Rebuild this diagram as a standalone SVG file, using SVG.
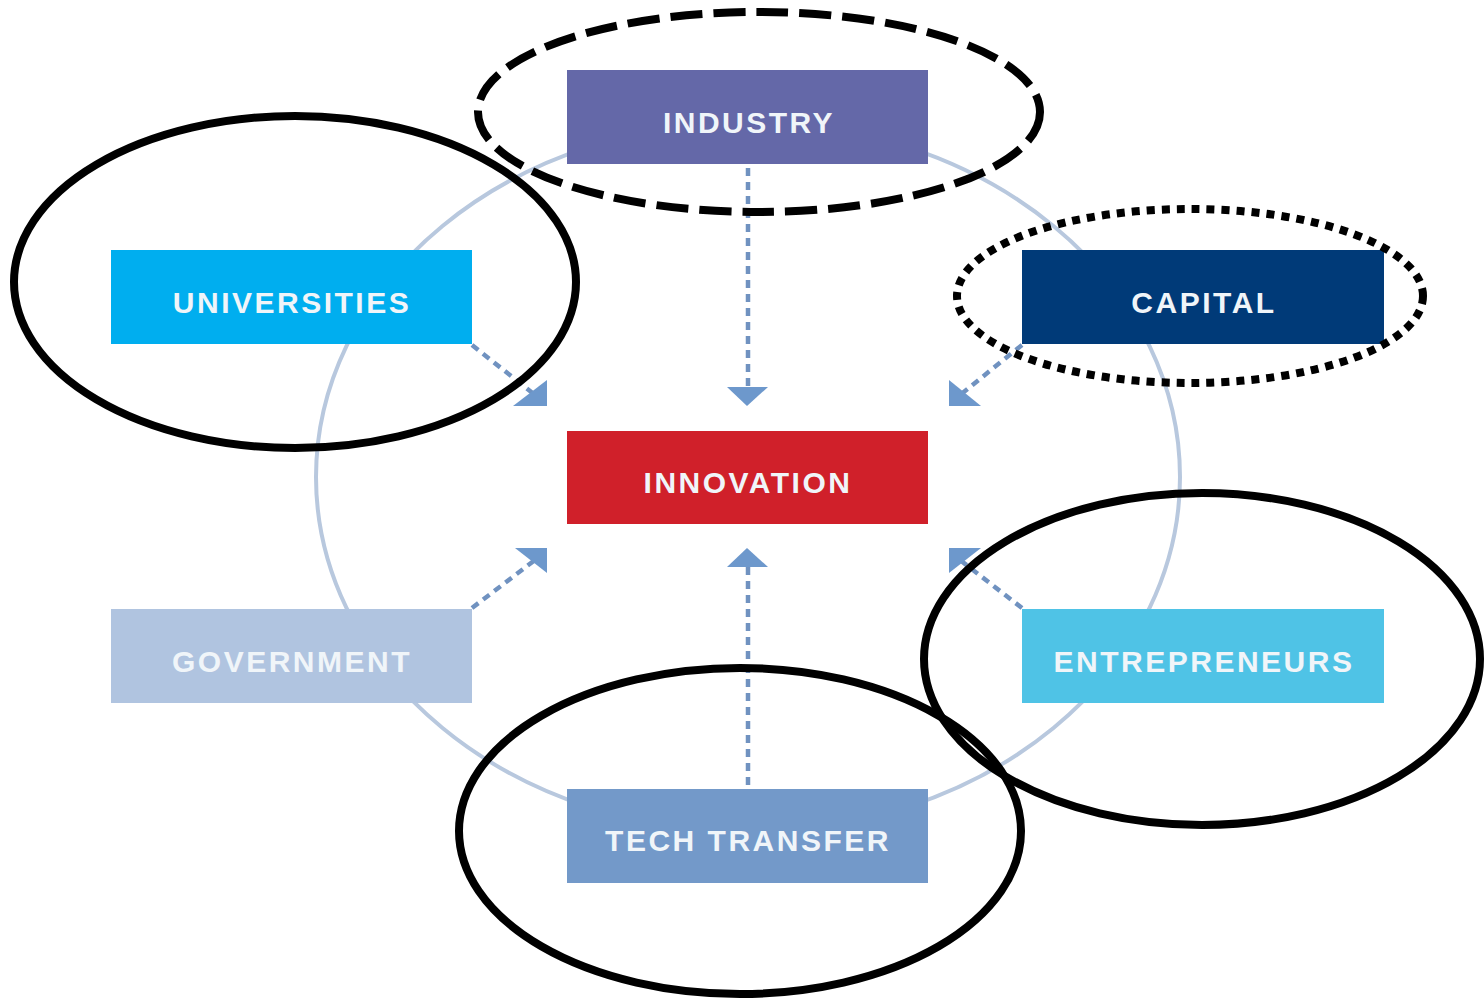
<svg xmlns="http://www.w3.org/2000/svg" width="1484" height="1001" viewBox="0 0 1484 1001">
<style>
.lbl{font-family:"Liberation Sans",Arial,sans-serif;font-size:30px;font-weight:bold;letter-spacing:2.5px;fill:#f0f5f9;text-anchor:middle}
.conn{stroke:#7092c0;stroke-width:4.5;stroke-dasharray:8 6;fill:none}
.head{fill:#6d98cc}
.mark{fill:none;stroke:#000;stroke-width:8}
</style>
<rect width="1484" height="1001" fill="#fff"/>
<ellipse cx="748" cy="477" rx="432" ry="355" fill="none" stroke="#b8c8de" stroke-width="4"/>
<g id="connectors">
<line class="conn" x1="748" y1="168" x2="748" y2="388"/>
<polygon class="head" points="727,387 768,387 747,406"/>
<line class="conn" x1="748" y1="785" x2="748" y2="566"/>
<polygon class="head" points="727,567 768,567 747,548"/>
<line class="conn" x1="472" y1="345" x2="535" y2="395"/>
<polygon class="head" points="513,406 547,406 547,380"/>
<line class="conn" x1="472" y1="608" x2="535" y2="560"/>
<polygon class="head" points="515,548 547,548 547,573"/>
<line class="conn" x1="1022" y1="345" x2="960" y2="395"/>
<polygon class="head" points="949,380 949,406 981,406"/>
<line class="conn" x1="1022" y1="608" x2="960" y2="560"/>
<polygon class="head" points="949,548 949,573 981,548"/>
</g>
<g id="industry"><rect x="567" y="70" width="361" height="94" fill="#6468a8"/><text class="lbl" x="749" y="133">INDUSTRY</text></g>
<g id="universities"><rect x="111" y="250" width="361" height="94" fill="#00aeef"/><text class="lbl" x="292" y="313">UNIVERSITIES</text></g>
<g id="capital"><rect x="1022" y="250" width="362" height="94" fill="#003a78"/><text class="lbl" x="1204" y="313">CAPITAL</text></g>
<g id="innovation"><rect x="567" y="431" width="361" height="93" fill="#d0202a"/><text class="lbl" x="748" y="493">INNOVATION</text></g>
<g id="government"><rect x="111" y="609" width="361" height="94" fill="#b0c4e0"/><text class="lbl" x="292" y="672">GOVERNMENT</text></g>
<g id="entrepreneurs"><rect x="1022" y="609" width="362" height="94" fill="#4fc3e6"/><text class="lbl" x="1204" y="672">ENTREPRENEURS</text></g>
<g id="tech-transfer"><rect x="567" y="789" width="361" height="94" fill="#7399c9"/><text class="lbl" x="748" y="851">TECH TRANSFER</text></g>
<g id="highlights">
<ellipse class="mark" cx="295" cy="282" rx="281" ry="166"/>
<ellipse class="mark" cx="759" cy="112" rx="281" ry="100" stroke-dasharray="32 11"/>
<ellipse class="mark" cx="1190" cy="296" rx="233" ry="87" stroke-dasharray="8 7"/>
<ellipse class="mark" cx="1202" cy="659" rx="278" ry="166"/>
<ellipse class="mark" cx="740" cy="831" rx="281" ry="163"/>
</g>
</svg>
